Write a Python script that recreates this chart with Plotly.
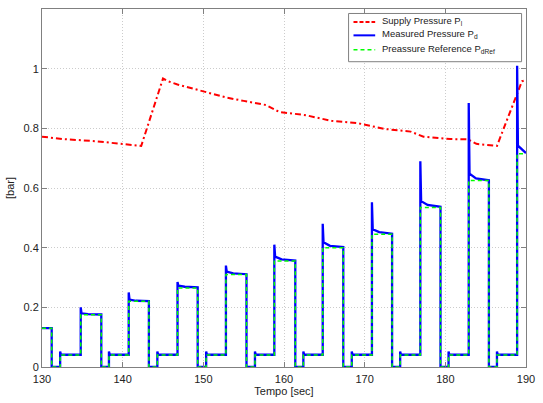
import plotly.graph_objects as go

# ---------------- data ----------------
# Supply pressure (red, dash-dot)
supply_t = [130.0, 132.6, 136.6, 140.3, 142.3, 145.0, 145.6, 146.8, 150.1, 152.9, 155.0,
            157.8, 159.4, 162.7, 165.9, 169.2, 172.45, 175.7, 177.3, 180.6, 182.8,
            183.85, 186.4, 188.3, 189.5, 190.0]
supply_p = [0.772, 0.764, 0.757, 0.746, 0.741, 0.967, 0.958, 0.947, 0.924, 0.903, 0.892,
            0.878, 0.855, 0.844, 0.825, 0.817, 0.798, 0.789, 0.772, 0.764, 0.763,
            0.748, 0.741, 0.875, 0.958, 0.962]

# Pressure reference steps (green) and measured pressure (blue)
high_on = [130.0, 134.8, 140.75, 146.8, 152.8, 158.8, 164.8, 170.9, 176.9, 182.9, 188.9]
high_off = [131.2, 137.35, 143.25, 149.3, 155.35, 161.4, 167.35, 173.4, 179.4, 185.4, 190.0]
low_on = [132.25, 138.3, 144.3, 150.35, 156.4, 162.4, 168.4, 174.4, 180.4, 186.4]
high_ref = [0.13, 0.175, 0.22, 0.265, 0.31, 0.355, 0.40, 0.445, 0.535, 0.625, 0.715]
low_ref = [0.04, 0.04, 0.04, 0.04, 0.04, 0.04, 0.04, 0.04, 0.04, 0.04]
meas_peak = [0.13, 0.20, 0.25, 0.285, 0.34, 0.41, 0.48, 0.552, 0.69, 0.885, 1.01]
meas_settle = [0.13, 0.18, 0.226, 0.273, 0.32, 0.37, 0.418, 0.462, 0.556, 0.648, 0.742]
meas_mid = [0.13, 0.177, 0.222, 0.269, 0.314, 0.361, 0.406, 0.452, 0.543, 0.632, 0.722]
meas_end = [0.13, 0.176, 0.221, 0.267, 0.311, 0.357, 0.402, 0.447, 0.537, 0.626, 0.717]
meas_low_peak = [0.052, 0.052, 0.052, 0.052, 0.052, 0.052, 0.052, 0.052, 0.052, 0.052]
meas_low = [0.041, 0.041, 0.041, 0.041, 0.041, 0.041, 0.041, 0.041, 0.041, 0.041]

x_ticks = [130, 140, 150, 160, 170, 180, 190]
y_ticks = [0, 0.2, 0.4, 0.6, 0.8, 1.0]
y_tick_text = ["0", "0.2", "0.4", "0.6", "0.8", "1"]

series_names = ["Supply Pressure P<sub>l</sub>",
                "Measured Pressure P<sub>d</sub>",
                "Preassure Reference P<sub>dRef</sub>"]
series_colors = ["#ff0000", "#0000ff", "#00ff00"]
series_dash = ["6px,3px,2px,3px", "solid", "4px,3px"]
series_width = [2, 2.3, 1.5]

# ---------------- build step polylines ----------------
ref_t, ref_v = [], []
mea_t, mea_v = [], []
n = len(high_on)
for k in range(n):
    ref_t += [high_on[k], high_off[k]]
    ref_v += [high_ref[k], high_ref[k]]
    on = high_on[k]
    off = high_off[k]
    mea_t += [on, on + 0.1, on + 0.9, off]
    mea_v += [meas_peak[k], meas_settle[k], meas_mid[k], meas_end[k]]
    if k < len(low_on):
        lo = low_on[k]
        nxt = high_on[k + 1]
        ref_t += [off, lo, lo, nxt]
        ref_v += [0.0, 0.0, low_ref[k], low_ref[k]]
        mea_t += [off, lo, lo, lo + 0.1, nxt]
        mea_v += [0.0, 0.0, meas_low_peak[k], meas_low[k], meas_low[k]]

fig = go.Figure()
traces = [(supply_t, supply_p), (mea_t, mea_v), (ref_t, ref_v)]
for i, (xs, ys) in enumerate(traces):
    fig.add_trace(go.Scatter(
        x=xs, y=ys, mode="lines", name=series_names[i], showlegend=False,
        line=dict(color=series_colors[i], width=series_width[i], dash=series_dash[i])))

# ---------------- compact legend (box, samples, labels) ----------------
W_PLOT, H_PLOT, L, T = 491.0, 360.0, 42.0, 8.0


def px_x(px):
    return (px - L) / W_PLOT


def px_y(py):
    return 1 - (py - T) / H_PLOT


shapes = [dict(type="rect", xref="paper", yref="paper",
               x0=px_x(353), x1=px_x(528.5), y0=px_y(61), y1=px_y(12.5),
               line=dict(color="#808080", width=1), fillcolor="white", layer="above")]
row_y = [21, 34.5, 49]
annotations = []
for i in range(3):
    shapes.append(dict(type="line", xref="paper", yref="paper",
                       x0=px_x(358), x1=px_x(380), y0=px_y(row_y[i]), y1=px_y(row_y[i]),
                       line=dict(color=series_colors[i], width=min(series_width[i], 2),
                                 dash="4px,2px" if i == 0 else series_dash[i]),
                       layer="above"))
    annotations.append(dict(xref="paper", yref="paper", x=px_x(385), y=px_y(row_y[i] - 1),
                            xanchor="left", yanchor="middle", showarrow=False,
                            text=series_names[i],
                            font=dict(family="Liberation Sans, Arial, sans-serif",
                                      size=9.5, color="#222222")))

axis_font = dict(family="Liberation Sans, Arial, sans-serif", size=11, color="#222222")
fig.update_layout(
    width=543, height=403,
    margin=dict(l=42, r=10, t=8, b=35),
    paper_bgcolor="white", plot_bgcolor="white",
    font=axis_font,
    showlegend=False,
    shapes=shapes,
    annotations=annotations,
)
fig.update_xaxes(
    range=[130, 190], tickvals=x_ticks, ticks="inside", ticklen=5,
    tickcolor="#808080", mirror="allticks", showline=True, linecolor="#808080",
    linewidth=1, showgrid=True, gridcolor="#cccccc", griddash="1px,2px", gridwidth=1,
    zeroline=False, tickfont=axis_font, ticklabelstandoff=2,
    title=dict(text="Tempo [sec]", font=axis_font, standoff=2))
fig.update_yaxes(
    range=[0, 1.2], tickvals=y_ticks, ticktext=y_tick_text, ticks="inside", ticklen=5,
    tickcolor="#808080", mirror="allticks", showline=True, linecolor="#808080",
    linewidth=1, showgrid=True, gridcolor="#cccccc", griddash="1px,2px", gridwidth=1,
    zeroline=False, tickfont=axis_font,
    title=dict(text="[bar]", font=axis_font, standoff=6))

fig.write_html("out.html")
